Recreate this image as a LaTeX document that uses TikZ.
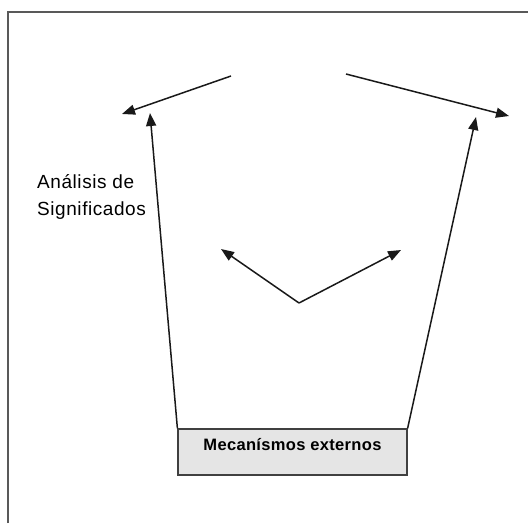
\documentclass[tikz,border=0pt]{standalone}
\usepackage{fontspec}
\setmainfont{Liberation Sans}
\usetikzlibrary{arrows.meta}
\begin{document}
\begin{tikzpicture}[x=1pt,y=-1pt,
  arr/.style={draw=black!90,line width=1.5pt,-{Triangle[length=13pt,width=10pt]}},
  frame/.style={draw=black!65,line width=1.6pt},
  boxst/.style={draw=black!75,line width=1.2pt,fill=black!10,minimum width=229pt,minimum height=46pt,inner sep=0pt}]
\useasboundingbox (0,0) rectangle (528,523);
\draw[frame] (8,523) -- (8,12) -- (528,12);
\node[boxst] (box) at (292.5,452) {};
\node[font=\bfseries\fontsize{16.5}{18}\selectfont\addfontfeature{LetterSpace=2}] (boxtext) at (292.5,445) {Mecanísmos externos};
\node[anchor=north west,align=left,inner sep=0pt,font=\fontsize{19}{27}\selectfont\addfontfeature{LetterSpace=3}] (label) at (37,174) {Análisis de\\Significados};
\coordinate (a1) at (231,76);  \coordinate (a2) at (122,114);
\coordinate (b1) at (346,74);  \coordinate (b2) at (509,116);
\coordinate (l2) at (150,113);
\coordinate (r2) at (476,117);
\coordinate (v) at (299,303);
\coordinate (vl) at (221,249);
\coordinate (vr) at (401,250);
\draw[arr] (a1) -- (a2);
\draw[arr] (b1) -- (b2);
\draw[arr] (box.north west) -- (l2);
\draw[arr] (box.north east) -- (r2);
\draw[arr] (v) -- (vl);
\draw[arr] (v) -- (vr);
\end{tikzpicture}
\end{document}
